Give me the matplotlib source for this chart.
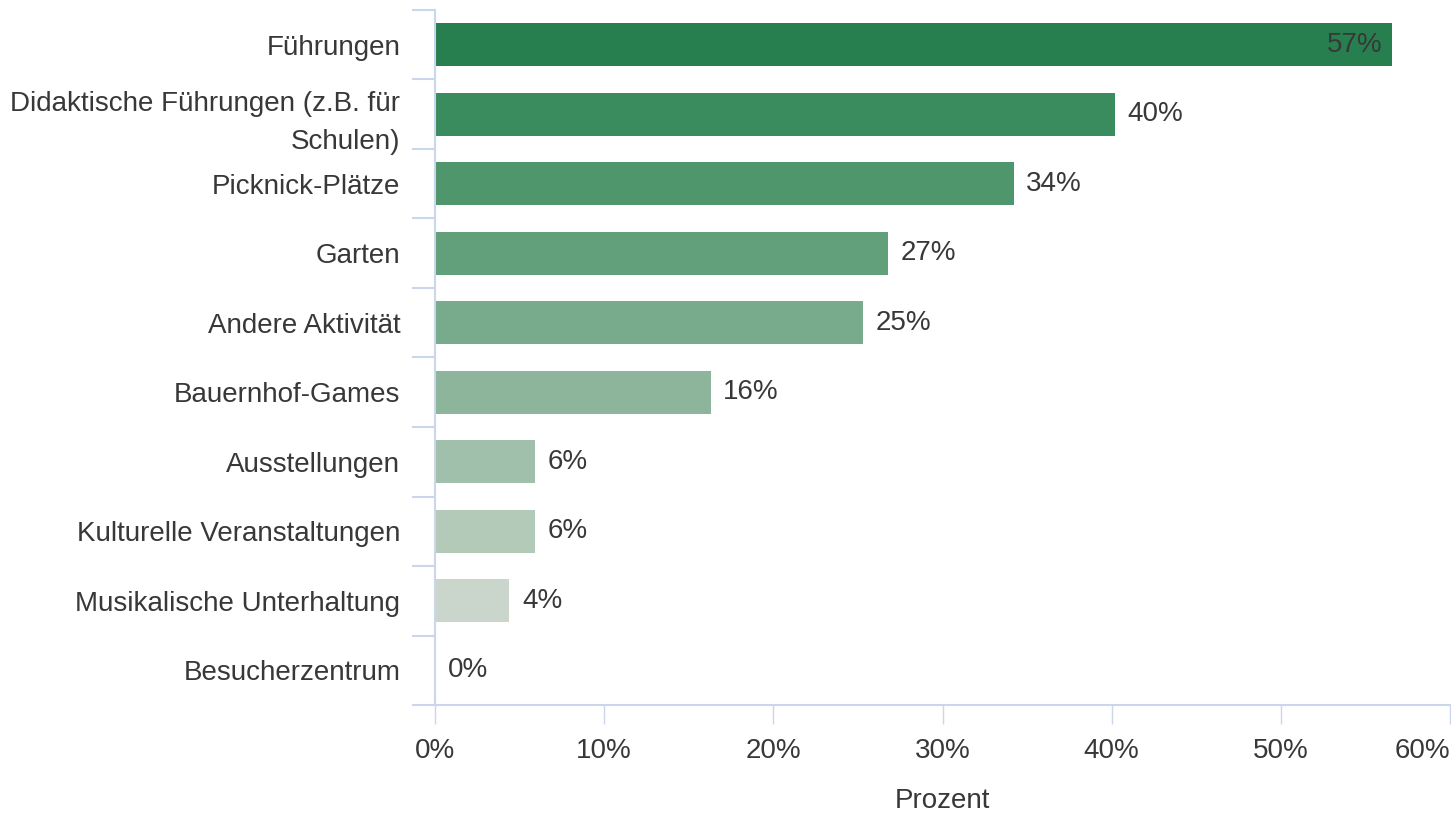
import matplotlib
matplotlib.use('Agg')
import matplotlib.pyplot as plt
import numpy as np

categories = [
    'Führungen',
    'Didaktische Führungen (z.B. für\nSchulen)',
    'Picknick-Plätze',
    'Garten',
    'Andere Aktivität',
    'Bauernhof-Games',
    'Ausstellungen',
    'Kulturelle Veranstaltungen',
    'Musikalische Unterhaltung',
    'Besucherzentrum',
]
values = [56.6, 40.2, 34.2, 26.8, 25.3, 16.3, 5.9, 5.9, 4.4, 0.0]
x_ticks = [0, 10, 20, 30, 40, 50, 60]
x_label = 'Prozent'

colors = ['#277f50', '#3a8b5e', '#4f966c', '#629f7b', '#78ab8c',
          '#8db59c', '#a1c0ab', '#b4cab9', '#cad5cc', '#dde3de']

plt.rcParams['font.family'] = ['Liberation Sans', 'DejaVu Sans']

W, H, DPI = 1451, 822, 100
fig = plt.figure(figsize=(W / DPI, H / DPI), dpi=DPI)
ax = fig.add_axes([435 / W, 1 - 705 / H, (1450 - 435) / W, (705 - 10) / H])

grid_col = '#ccd6eb'
text_col = '#383838'
fs = 20

y = np.arange(len(categories))
ax.barh(y, values, height=0.62, color=colors, zorder=2)

ax.set_xlim(0, 60)
ax.set_ylim(len(categories) - 0.5, -0.5)

# value labels (inside the longest bar, outside otherwise)
for yi, v in zip(y, values):
    txt = '{:.0f}%'.format(v)
    if v > 50:
        ax.annotate(txt, (v, yi), xytext=(-7, 0), textcoords='offset points',
                    ha='right', va='center', fontsize=fs, color=text_col)
    else:
        ax.annotate(txt, (v, yi), xytext=(9, 0), textcoords='offset points',
                    ha='left', va='center', fontsize=fs, color=text_col)

# category axis: labels at centers, tick marks between categories
ax.set_yticks(y)
ax.set_yticklabels(categories, fontsize=fs, color=text_col, linespacing=1.6)
ax.tick_params(axis='y', which='major', length=0, pad=25)
ax.set_yticks(np.arange(-0.5, len(categories) + 0.5, 1), minor=True)
ax.tick_params(axis='y', which='minor', length=16.5, width=1.5, color=grid_col)

ax.set_xticks(x_ticks)
ax.set_xticklabels(['{}%'.format(t) for t in x_ticks], fontsize=fs, color=text_col)
ax.get_xticklabels()[-1].set_horizontalalignment('right')
ax.tick_params(axis='x', which='major', length=14, width=1, color=grid_col, pad=10)
ax.set_xlabel(x_label, fontsize=fs, color=text_col, labelpad=17)

for side in ['top', 'right']:
    ax.spines[side].set_visible(False)
ax.spines['left'].set_color(grid_col)
ax.spines['left'].set_linewidth(1.5)
ax.spines['bottom'].set_color(grid_col)
ax.spines['bottom'].set_linewidth(1.5)

fig.savefig('out.png', dpi=DPI)
